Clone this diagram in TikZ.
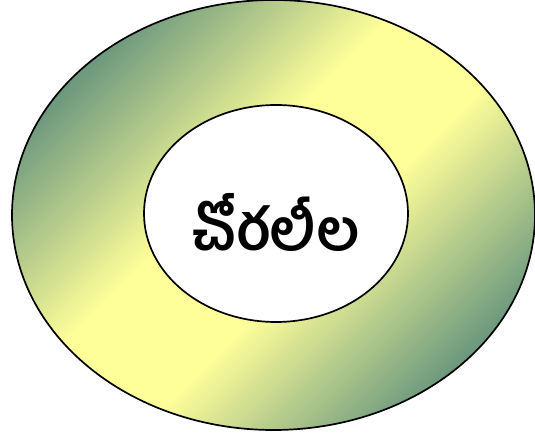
\documentclass[tikz,border=0pt]{standalone}
\usepackage{fontspec}
\newfontfamily\telugufont[Script=Telugu]{Hind Guntur}
\usetikzlibrary{shapes.geometric, positioning}
\definecolor{ringdark}{RGB}{108,152,126}
\definecolor{ringlight}{RGB}{255,255,153}
\pgfdeclarehorizontalshading{ringshade}{100bp}{color(0bp)=(ringdark); color(25bp)=(ringdark); color(44bp)=(ringlight); color(56bp)=(ringlight); color(75bp)=(ringdark); color(100bp)=(ringdark)}
\tikzstyle{ring}  = [draw=black, line width=1.7pt, shading=ringshade, shading angle=-45]
\tikzstyle{core}  = [ellipse, draw=black, line width=1.7pt, fill=white, inner sep=0pt,
                     minimum width=264pt, minimum height=217pt]

\begin{document}
\begin{tikzpicture}[x=1pt, y=1pt]
  \useasboundingbox (0,0) rectangle (535,438);
  \coordinate (mid) at (273.5,223);
  \draw[ring] (mid) ellipse [x radius=261.5, y radius=215];
  \node (name) [core] at (276,224.5) {};
  \node (title) [below=9pt of name.center, anchor=center] {\telugufont\bfseries\fontsize{57}{66}\selectfont చోరలీల};
\end{tikzpicture}
\end{document}
